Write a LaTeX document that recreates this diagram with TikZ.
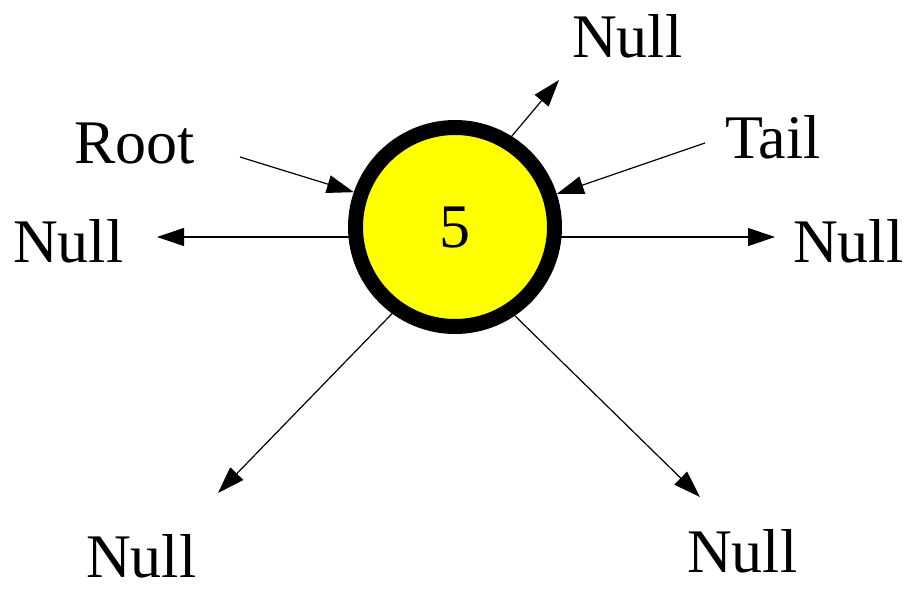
\documentclass[tikz,border=0pt]{standalone}
\usepackage{fontspec}
\setmainfont{Liberation Serif}
\usetikzlibrary{arrows.meta}
\definecolor{pureyellow}{RGB}{255,255,0}
\begin{document}
\begin{tikzpicture}[x=1pt,y=-1pt,
  lbl/.style={anchor=base west,inner sep=0pt,font=\fontsize{62}{70}\selectfont},
  ptr/.style={line width=1.2pt,-{Triangle[length=27pt,width=18pt]}},
  nodecirc/.style={circle,draw=black,line width=15pt,fill=pureyellow,minimum size=199pt,inner sep=0pt,font=\fontsize{62}{70}\selectfont}]
\useasboundingbox (0,0) rectangle (915,595);
\node[nodecirc] (n) at (455,227) {5};
\node[lbl] (ntop) at (572,57) {Null};
\node[lbl] (root) at (74,163) {Root};
\node[lbl] (tail) at (725,158) {Tail};
\node[lbl] (nleft) at (13,262) {Null};
\node[lbl] (nright) at (793,262) {Null};
\node[lbl] (nbl) at (86,577) {Null};
\node[lbl] (nbr) at (687,572) {Null};
\coordinate (ttop) at (559,80);
\coordinate (troot) at (240,157);
\coordinate (ttail) at (705,143);
\coordinate (tleft) at (157,237);
\coordinate (tright) at (775,237);
\coordinate (tbl) at (218,493);
\coordinate (tbr) at (700,497);
\draw[ptr] (n.58) -- (ttop);
\draw[ptr] (troot) -- (n.161);
\draw[ptr] (ttail) -- (n.18);
\draw[ptr] (tleft -| n.186) -- (tleft);
\draw[ptr] (tright -| n.354) -- (tright);
\draw[ptr] (n.234) -- (tbl);
\draw[ptr] (n.304) -- (tbr);
\end{tikzpicture}
\end{document}
